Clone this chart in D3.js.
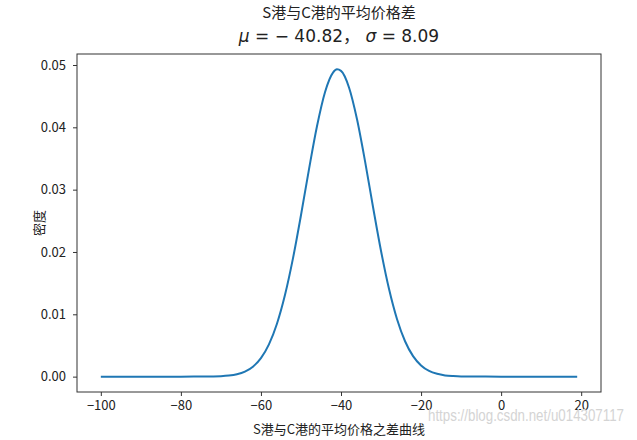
<!DOCTYPE html>
<html>
<head>
<meta charset="utf-8">
<script src="https://cdn.jsdelivr.net/npm/d3@7"></script>
<style>
  body { margin: 0; background: #fff; }
  svg text { font-family: "Noto Sans CJK SC", "DejaVu Sans", sans-serif; fill: #222; }
</style>
</head>
<body>
<div id="chart"></div>
<script>
// density curve
const xs = [-100, -90, -80, -74, -70, -68, -66, -64, -62, -60, -58, -56, -54, -52, -50, -48, -46, -44, -42, -41,
  -40, -38, -36, -34, -32, -30, -28, -26, -24, -22, -20, -18, -16, -14, -12, -10, 0, 10, 19];
const ys = [0, 0, 0, 0.000011, 0.000074, 0.000174, 0.000388, 0.000813, 0.0016, 0.00297, 0.00517, 0.00848, 0.01308,
  0.01897, 0.0259, 0.03326, 0.04017, 0.04564, 0.04879, 0.0493,
  0.04906, 0.0464, 0.04129, 0.03457, 0.02721, 0.02016, 0.01405, 0.00921, 0.00568, 0.00329, 0.0018, 0.00092,
  0.00045, 0.0002, 0.000087, 0.00003, 0, 0, 0];
const xTicks = [-100, -80, -60, -40, -20, 0, 20];
const yTicks = [0, 0.01, 0.02, 0.03, 0.04, 0.05];

const W = 637, H = 440;
const margin = { top: 54, right: 36, bottom: 48, left: 77 };
const width = W - margin.left - margin.right;
const height = H - margin.top - margin.bottom;

const data = xs.map((x, i) => ({ x: x, y: ys[i] }));

const svg = d3.select("#chart").append("svg")
  .attr("width", W)
  .attr("height", H);

// matplotlib style 5% padding
const xPad = (d3.max(xs) - d3.min(xs)) * 0.05;
const yPad = d3.max(ys) * 0.05;
const x = d3.scaleLinear().domain([d3.min(xs) - xPad, d3.max(xs) + xPad]).range([0, width]);
const y = d3.scaleLinear().domain([-yPad, d3.max(ys) + yPad]).range([height, 0]);

const g = svg.append("g").attr("transform", `translate(${margin.left},${margin.top})`);

// Axes
const xAxis = g.append("g")
  .attr("transform", `translate(0,${height})`)
  .call(d3.axisBottom(x).tickValues(xTicks).tickSize(4).tickPadding(5).tickFormat(d3.format("d")));
const yAxis = g.append("g")
  .call(d3.axisLeft(y).tickValues(yTicks).tickSize(4).tickPadding(7).tickFormat(d3.format(".2f")));

[xAxis, yAxis].forEach(a => {
  a.select(".domain").remove();
  a.selectAll(".tick line").attr("stroke", "#333").attr("stroke-width", 1);
  a.selectAll(".tick text").style("font-size", "13px").attr("fill", "#333");
});

// frame
g.append("rect")
  .attr("width", width)
  .attr("height", height)
  .attr("fill", "none")
  .attr("stroke", "#333")
  .attr("stroke-width", 1);

// Curve
g.append("path")
  .datum(data)
  .attr("fill", "none")
  .attr("stroke", "#1f77b4")
  .attr("stroke-width", 2)
  .attr("d", d3.line().x(d => x(d.x)).y(d => y(d.y)).curve(d3.curveMonotoneX));

// Titles
const cx = margin.left + width / 2;
svg.append("text")
  .attr("x", cx)
  .attr("y", 18)
  .attr("text-anchor", "middle")
  .style("font-size", "15px")
  .text("S港与C港的平均价格差");

const t2 = svg.append("text")
  .attr("x", cx)
  .attr("y", 42)
  .attr("text-anchor", "middle")
  .style("font-size", "17px")
  .style("font-family", "DejaVu Sans");
t2.append("tspan").style("font-style", "italic").text("μ");
t2.append("tspan").text(" = − 40.82");
t2.append("tspan").style("font-family", "Noto Sans CJK SC").text("，");
t2.append("tspan").text("   ");
t2.append("tspan").style("font-style", "italic").text("σ");
t2.append("tspan").text(" = 8.09");

// Axis labels
svg.append("text")
  .attr("x", cx)
  .attr("y", 434)
  .attr("text-anchor", "middle")
  .style("font-size", "13px")
  .text("S港与C港的平均价格之差曲线");

svg.append("text")
  .attr("transform", `translate(44,${margin.top + height / 2}) rotate(-90)`)
  .attr("text-anchor", "middle")
  .style("font-size", "13px")
  .text("密度");

// watermark
svg.append("text")
  .attr("x", 428)
  .attr("y", 421)
  .attr("textLength", 196)
  .attr("lengthAdjust", "spacingAndGlyphs")
  .style("font-size", "16px")
  .style("font-family", "Liberation Sans")
  .style("fill", "#d4d4d4")
  .text("https://blog.csdn.net/u014307117");
</script>
</body>
</html>
